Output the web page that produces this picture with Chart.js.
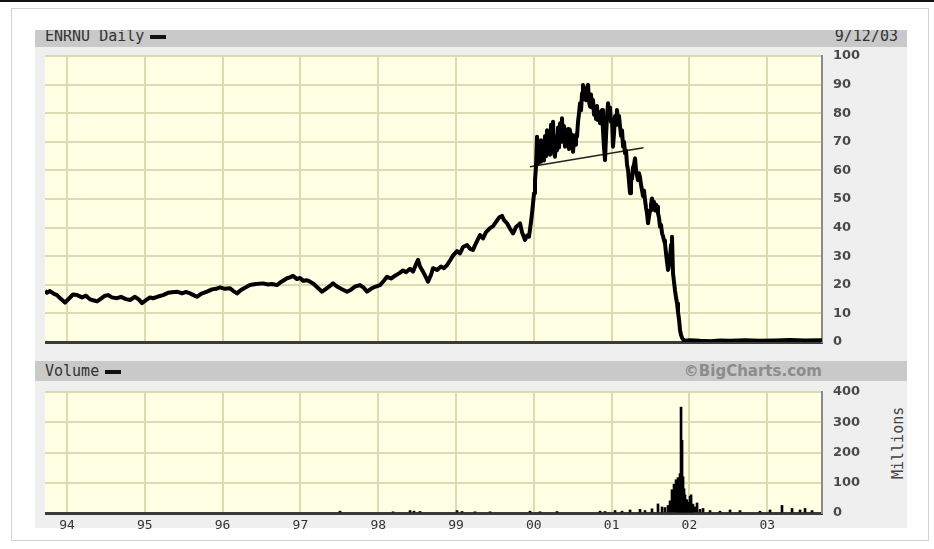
<!DOCTYPE html>
<html lang="en">
<head>
<meta charset="UTF-8">
<title>ENRNU Daily</title>
<script src="https://cdn.jsdelivr.net/npm/chart.js"></script>
<style>
  body { margin: 0; width: 934px; height: 549px; background: #fff; position: relative; overflow: hidden; font-family: "DejaVu Sans Mono", monospace; }
  .topline { position: absolute; left: 0; top: 0; width: 934px; height: 2px; background: #111; }
  .frame { position: absolute; left: 11px; top: 8px; width: 918px; height: 533px; border: 1px solid #d2d2d2; box-sizing: border-box; }
  .panel { position: absolute; left: 35px; top: 30px; width: 872px; height: 498px; background: #efefef; }
  .bar { position: absolute; left: 35px; width: 872px; background: #c9c9c9; overflow: hidden; color: #333; }
  .bar span { position: absolute; white-space: nowrap; }
  .dash { display: inline-block; width: 16px; height: 4px; background: #111; vertical-align: middle; margin-left: 6px; }
  .brand { font-family: "DejaVu Sans", sans-serif; font-weight: bold; color: #8c8c8c; }
  .millions { position: absolute; left: 868px; top: 440px; width: 60px; text-align: center; font-size: 15px; color: #444; transform: rotate(-90deg); }
  canvas { position: absolute; }
</style>
</head>
<body>
<div class="topline"></div>
<div class="frame"></div>
<div class="panel"></div>
<div class="bar" style="top:30px;height:17px;font-size:15px;">
  <span style="left:10px;top:-3px;">ENRNU Daily<i class="dash"></i></span>
  <span style="right:9px;top:-3px;">9/12/03</span>
</div>
<div class="bar" style="top:361px;height:20px;font-size:15px;">
  <span style="left:10px;top:1px;">Volume<i class="dash"></i></span>
  <span class="brand" style="right:85px;top:1px;font-size:15px;">©BigCharts.com</span>
</div>
<div class="millions">Millions</div>

<canvas id="grafico_preco" width="835" height="302" style="left:45px;top:48px;"></canvas>
<canvas id="grafico_volume" width="835" height="151" style="left:45px;top:384px;"></canvas>

<script>
    // axis ticks
    const yearTicks = [1994, 1995, 1996, 1997, 1998, 1999, 2000, 2001, 2002, 2003];
    const priceTicks = [0, 10, 20, 30, 40, 50, 60, 70, 80, 90, 100];
    const volumeTicks = [0, 100, 200, 300, 400];

    // daily price (decimal years)
    const priceDates = [
        1993.717, 1993.743, 1993.781, 1993.833, 1993.871, 1993.923, 1993.974, 1994.026, 1994.077, 1994.129,
        1994.193, 1994.244, 1994.296, 1994.347, 1994.386, 1994.437, 1994.488, 1994.527, 1994.578, 1994.643,
        1994.694, 1994.758, 1994.810, 1994.874, 1994.925, 1994.964, 1995.015, 1995.067, 1995.105, 1995.170,
        1995.234, 1995.298, 1995.350, 1995.414, 1995.478, 1995.530, 1995.581, 1995.632, 1995.671, 1995.722,
        1995.799, 1995.864, 1995.915, 1995.967, 1996.031, 1996.095, 1996.134, 1996.185, 1996.236, 1996.288,
        1996.352, 1996.429, 1996.519, 1996.584, 1996.635, 1996.699, 1996.751, 1996.828, 1996.866, 1996.905,
        1996.956, 1996.995, 1997.033, 1997.085, 1997.123, 1997.175, 1997.226, 1997.278, 1997.329, 1997.380,
        1997.419, 1997.470, 1997.522, 1997.560, 1997.599, 1997.650, 1997.702, 1997.766, 1997.817, 1997.856,
        1997.907, 1997.959, 1998.023, 1998.075, 1998.113, 1998.165, 1998.216, 1998.267, 1998.319, 1998.357,
        1998.409, 1998.447, 1998.486, 1998.512, 1998.537, 1998.576, 1998.614, 1998.640, 1998.679, 1998.704,
        1998.756, 1998.807, 1998.846, 1998.884, 1998.923, 1998.961, 1999.013, 1999.051, 1999.090, 1999.141,
        1999.180, 1999.218, 1999.257, 1999.308, 1999.347, 1999.386, 1999.437, 1999.476, 1999.514, 1999.553,
        1999.591, 1999.617, 1999.656, 1999.694, 1999.733, 1999.771, 1999.797, 1999.823, 1999.848, 1999.887,
        1999.913, 1999.938, 1999.964, 1999.977, 1999.990, 2000.003, 2000.015,
        2000.028, 2000.041, 2000.054, 2000.067, 2000.080, 2000.092, 2000.105, 2000.118, 2000.131, 2000.144,
        2000.157, 2000.170, 2000.183, 2000.195, 2000.208, 2000.221, 2000.234, 2000.247, 2000.260, 2000.272,
        2000.285, 2000.298, 2000.311, 2000.324, 2000.337, 2000.350, 2000.362, 2000.375, 2000.388, 2000.401,
        2000.414, 2000.427, 2000.440, 2000.452, 2000.465, 2000.478, 2000.491, 2000.504, 2000.517, 2000.530,
        2000.542, 2000.555, 2000.568, 2000.581, 2000.594, 2000.607, 2000.620, 2000.632, 2000.645, 2000.658,
        2000.671, 2000.684, 2000.697, 2000.710, 2000.722, 2000.735, 2000.748, 2000.761, 2000.774, 2000.787,
        2000.799, 2000.812, 2000.825, 2000.838, 2000.851, 2000.864, 2000.877, 2000.889, 2000.902, 2000.915,
        2000.928, 2000.941, 2000.954, 2000.967, 2000.979, 2000.992, 2001.005, 2001.018, 2001.031, 2001.044,
        2001.057, 2001.069, 2001.082, 2001.095, 2001.108, 2001.121, 2001.134, 2001.147, 2001.159, 2001.172,
        2001.185, 2001.198, 2001.211, 2001.224, 2001.237, 2001.249, 2001.262, 2001.275, 2001.288, 2001.301,
        2001.314, 2001.327, 2001.339, 2001.352, 2001.365, 2001.378, 2001.391, 2001.404, 2001.416, 2001.429,
        2001.442, 2001.455, 2001.468, 2001.481, 2001.494, 2001.506, 2001.519, 2001.532, 2001.545, 2001.558,
        2001.571, 2001.584, 2001.596, 2001.609, 2001.622, 2001.635, 2001.648, 2001.661, 2001.674, 2001.686,
        2001.699, 2001.712, 2001.725, 2001.738, 2001.751, 2001.764, 2001.776, 2001.789, 2001.802, 2001.815,
        2001.828, 2001.841, 2001.853, 2001.866, 2001.879, 2001.892, 2001.905, 2001.931,
        2002.008, 2002.136, 2002.265, 2002.393, 2002.522, 2002.715, 2002.907, 2003.100, 2003.293, 2003.486,
        2003.704
    ];
    const priceValues = [
        17.8, 17.2, 17.8, 16.8, 16.4, 15.0, 13.8, 15.2, 16.6, 16.4,
        15.6, 16.2, 14.9, 14.5, 14.2, 15.2, 16.2, 16.4, 15.6, 15.3,
        15.8, 15.0, 14.7, 15.8, 14.8, 13.6, 14.6, 15.6, 15.3, 15.9,
        16.4, 17.2, 17.4, 17.6, 17.0, 17.5, 17.0, 16.3, 15.8, 16.8,
        17.6, 18.4, 18.6, 19.1, 18.6, 18.8, 17.9, 17.0, 18.2, 19.0,
        19.9, 20.3, 20.5, 20.1, 20.3, 19.9, 21.0, 22.3, 22.6, 23.1,
        22.0, 22.4, 21.4, 21.6, 21.1, 20.2, 18.9, 17.6, 18.6, 19.6,
        20.5, 19.4, 18.6, 18.1, 17.6, 18.3, 19.4, 19.9, 18.9, 17.6,
        18.6, 19.3, 19.9, 21.5, 22.8, 22.2, 23.2, 24.0, 25.0, 24.4,
        25.6, 24.6, 27.2, 28.7, 26.4, 24.6, 22.6, 21.1, 23.5, 25.8,
        25.2, 26.4, 25.8, 26.9, 28.5, 30.2, 31.8, 31.0, 33.2, 33.9,
        32.6, 32.2, 34.6, 37.4, 36.2, 38.4, 39.8, 40.5, 42.0, 43.5,
        44.1, 42.6, 41.5, 39.6, 38.0, 40.2, 40.8, 41.5, 38.4, 35.7,
        37.2, 36.8, 42.0, 45.0, 48.5, 52.0, 56.6,
        61.3, 71.8, 62.5, 68.0, 63.0, 70.5, 64.0, 69.0, 63.5, 72.0,
        65.0, 74.0, 66.0, 72.5, 65.5, 76.0, 69.0, 77.0, 66.0, 64.8,
        72.0, 67.0, 75.0, 68.0, 76.5, 70.0, 78.2, 71.0, 75.5, 68.3,
        73.0, 69.0, 74.5, 67.5, 74.1, 70.0, 72.5, 66.5, 71.0, 69.0,
        72.5, 71.8, 77.0, 80.0, 83.5, 81.0, 87.0, 89.9, 85.0, 88.0,
        84.5, 89.0, 89.9, 84.0, 82.3, 86.5, 82.0, 84.6, 79.5, 82.0,
        78.0, 82.5, 77.6, 80.0, 76.5, 80.5, 81.1, 74.0, 68.0, 63.6,
        72.0, 79.0, 83.5, 80.0, 82.0, 77.0, 77.6, 68.3, 73.0, 79.0,
        76.0, 81.1, 77.0, 79.0, 75.3, 72.0, 74.0, 68.3, 70.0, 66.0,
        67.0, 62.0, 60.1, 56.0, 52.0, 58.0, 57.0, 61.0, 62.0, 64.2,
        60.0, 58.0, 56.6, 59.0, 57.5, 55.0, 53.0, 51.0, 53.0, 49.7,
        47.0, 45.0, 41.5, 44.0, 46.0, 48.0, 50.2, 47.5, 49.0, 46.0,
        48.0, 47.3, 45.0, 43.5, 40.3, 41.0, 38.0, 37.0, 35.5, 34.5,
        31.0, 28.0, 25.2, 27.0, 30.0, 34.0, 36.8, 24.0, 21.0, 18.0,
        15.5, 13.5, 10.5, 8.0, 4.2, 2.5, 1.5, 0.4,
        0.6, 0.4, 0.3, 0.5, 0.4, 0.6, 0.4, 0.5, 0.7, 0.5,
        0.6
    ];

    // support line drawn on the chart
    const trendDates = [1999.95, 2001.41];
    const trendValues = [61.3, 67.9];

    // volume in millions
    const volumeDates = [
        1997.509, 1998.190, 1998.409, 1998.460, 1998.537, 1999.013, 1999.077, 1999.244, 1999.437, 1999.951,
        2000.080, 2000.298, 2000.851, 2000.915, 2001.044, 2001.134, 2001.237, 2001.365, 2001.429, 2001.519,
        2001.596, 2001.648, 2001.686, 2001.725, 2001.751, 2001.776, 2001.802, 2001.828, 2001.841, 2001.853,
        2001.866, 2001.879, 2001.892, 2001.905, 2001.918, 2001.931, 2001.943, 2001.956, 2001.969, 2001.982,
        2001.995, 2002.008, 2002.021, 2002.033, 2002.046, 2002.072, 2002.098, 2002.136, 2002.175, 2002.265,
        2002.393, 2002.522, 2002.650, 2002.907, 2003.036, 2003.190, 2003.319, 2003.422, 2003.486, 2003.576
    ];
    const volumeValues = [
        6, 4, 8, 6, 5, 8, 5, 4, 4, 6,
        4, 5, 6, 5, 8, 6, 10, 12, 8, 14,
        30, 20, 18, 25, 40, 77, 95, 110, 80, 117,
        100, 130, 350, 240, 120, 80, 60, 45, 43, 35,
        25, 55, 60, 30, 28, 20, 33, 12, 15, 8,
        6, 10, 8, 6, 10, 25, 15, 10, 15, 8
    ];

    const corGrade = '#dcdcb4';
    const fonteEixoY = { family: 'DejaVu Sans', size: 13, weight: 'bold' };

    const fundoAmarelo = {
        id: 'fundoAmarelo',
        beforeDraw(chart) {
            const { ctx, chartArea: a } = chart;
            ctx.save();
            ctx.fillStyle = '#ffffe4';
            ctx.fillRect(a.left, a.top, a.right - a.left, a.bottom - a.top);
            ctx.restore();
        }
    };

    function eixoX(comRotulos) {
        return {
            type: 'linear',
            min: 1993.717,
            max: 2003.704,
            offset: false,
            afterBuildTicks: s => { s.ticks = yearTicks.map(v => ({ value: v })); },
            afterFit: s => { s.height = comRotulos ? 22 : 8; },
            grid: { color: corGrade, lineWidth: 2, drawTicks: false, offset: false },
            border: { color: '#3a3a3a', width: 3 },
            ticks: {
                display: comRotulos,
                autoSkip: false,
                maxRotation: 0,
                padding: 5,
                color: '#333',
                font: { family: 'DejaVu Sans Mono', size: 13 },
                callback: v => String(v % 100).padStart(2, '0')
            }
        };
    }

    function eixoY(max, ticks) {
        return {
            position: 'right',
            min: 0,
            max: max,
            afterBuildTicks: s => { s.ticks = ticks.map(v => ({ value: v })); },
            afterFit: s => { s.width = 58; },
            grid: {
                color: c => (c.tick && c.tick.value === 0) ? 'rgba(0,0,0,0)' : corGrade,
                lineWidth: 2,
                drawTicks: true,
                tickLength: 11,
                tickColor: 'rgba(0,0,0,0)'
            },
            border: { color: '#8a8a8a', width: 2 },
            ticks: { padding: 0, color: '#4a4a4a', font: fonteEixoY }
        };
    }

    new Chart(document.getElementById('grafico_preco').getContext('2d'), {
        type: 'line',
        data: {
            datasets: [{
                label: 'ENRNU',
                data: priceDates.map((x, i) => ({ x: x, y: priceValues[i] })),
                borderColor: '#000',
                borderWidth: 4,
                pointRadius: 0,
                tension: 0,
                borderJoinStyle: 'round'
            }, {
                label: 'suporte',
                data: trendDates.map((x, i) => ({ x: x, y: trendValues[i] })),
                borderColor: '#222',
                borderWidth: 1.5,
                pointRadius: 0
            }]
        },
        options: {
            responsive: false,
            animation: false,
            layout: { padding: { top: 8, left: 0, right: 0, bottom: 0 } },
            plugins: { legend: { display: false }, tooltip: { enabled: false } },
            scales: { x: eixoX(false), y: eixoY(100, priceTicks) }
        },
        plugins: [fundoAmarelo]
    });

    new Chart(document.getElementById('grafico_volume').getContext('2d'), {
        type: 'bar',
        data: {
            datasets: [{
                label: 'Volume',
                data: volumeDates.map((x, i) => ({ x: x, y: volumeValues[i] })),
                backgroundColor: '#000',
                barThickness: 2
            }]
        },
        options: {
            responsive: false,
            animation: false,
            layout: { padding: { top: 8, left: 0, right: 0, bottom: 0 } },
            plugins: { legend: { display: false }, tooltip: { enabled: false } },
            scales: { x: eixoX(true), y: eixoY(400, volumeTicks) }
        },
        plugins: [fundoAmarelo]
    });
</script>
</body>
</html>
